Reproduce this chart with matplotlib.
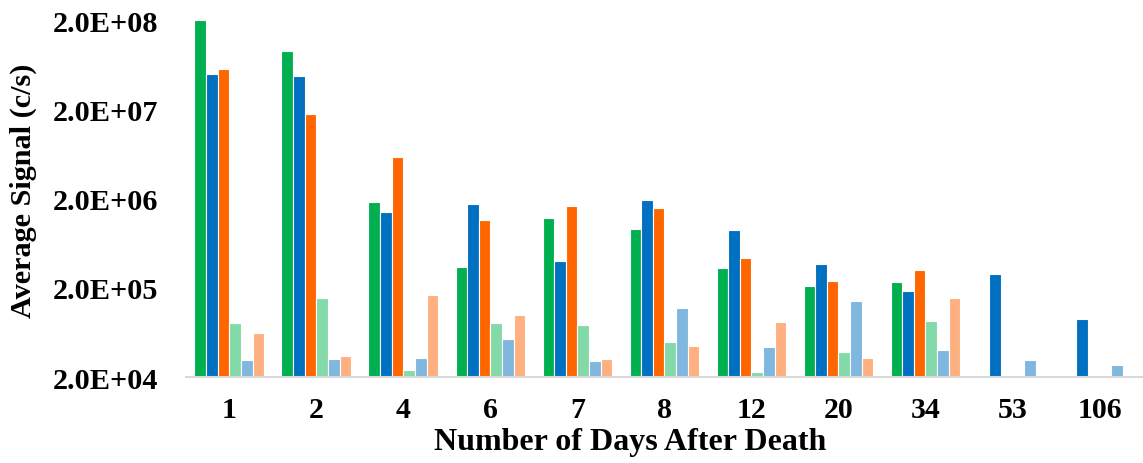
import numpy as np
import matplotlib
matplotlib.use("Agg")
import matplotlib.pyplot as plt
from matplotlib.ticker import FixedLocator, FixedFormatter, NullLocator

days = ["1", "2", "4", "6", "7", "8", "12", "20", "34", "53", "106"]
nan = np.nan

# six series (c/s)
green = [2.0e8, 9.0e7, 1.83e6, 3.4e5, 1.2e6, 9.2e5, 3.3e5, 2.08e5, 2.34e5, nan, nan]
blue = [5.0e7, 4.7e7, 1.43e6, 1.75e6, 3.96e5, 1.94e6, 8.9e5, 3.7e5, 1.84e5, 2.86e5, 8.9e4]
orange = [5.6e7, 1.76e7, 5.85e6, 1.16e6, 1.64e6, 1.57e6, 4.3e5, 2.38e5, 3.19e5, nan, nan]
light_green = [8.1e4, 1.54e5, 2.4e4, 8.1e4, 7.7e4, 4.9e4, 2.3e4, 3.8e4, 8.5e4, nan, nan]
light_blue = [3.1e4, 3.2e4, 3.27e4, 5.3e4, 3.0e4, 1.19e5, 4.3e4, 1.42e5, 4.0e4, 3.1e4, 2.7e4]
light_orange = [6.3e4, 3.4e4, 1.66e5, 9.9e4, 3.2e4, 4.4e4, 8.2e4, 3.3e4, 1.55e5, nan, nan]

series = [green, blue, orange, light_green, light_blue, light_orange]
colors = ["#00B050", "#0070C0", "#FF6600", "#84D9A9", "#80B7DF", "#FFB080"]

plt.rcParams["font.family"] = ["Liberation Serif", "DejaVu Serif"]
plt.rcParams["font.weight"] = "bold"

fig = plt.figure(figsize=(11.43, 4.64), dpi=100)
ax = fig.add_axes([0.1627, 0.1853, 0.8373, 0.7694])

x = np.arange(len(days))
w = 0.134
for i, (vals, c) in enumerate(zip(series, colors)):
    ax.bar(x + (i - 2.5) * w, vals, width=w, color=c, edgecolor="white",
           linewidth=0.8, bottom=0)

ax.set_yscale("log")
ax.set_ylim(2e4, 2e8)
ax.set_xlim(-0.5, len(days) - 0.5)

yt = [2e4, 2e5, 2e6, 2e7, 2e8]
ax.yaxis.set_major_locator(FixedLocator(yt))
ax.yaxis.set_major_formatter(FixedFormatter(["2.0E+04", "2.0E+05", "2.0E+06", "2.0E+07", "2.0E+08"]))
ax.yaxis.set_minor_locator(NullLocator())
ax.set_xticks(x)
ax.set_xticklabels(days)
ax.tick_params(axis="y", length=0, pad=20, labelsize=21.8)
ax.tick_params(axis="x", length=0, pad=14, labelsize=21.5)

for s in ["top", "right", "left"]:
    ax.spines[s].set_visible(False)
ax.spines["bottom"].set_color("#D9D9D9")
ax.spines["bottom"].set_linewidth(1.5)

fig.text(0.0206, 0.588, "Average Signal (c/s)", rotation=90, ha="center", va="center",
         fontsize=21.8, fontweight="bold")
fig.text(0.551, 0.046, "Number of Days After Death", ha="center", va="center",
         fontsize=23, fontweight="bold")

fig.savefig("out.png", dpi=100)
